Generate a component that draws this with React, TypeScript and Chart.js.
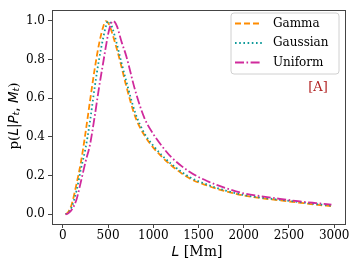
import React, { useEffect, useRef } from "react";
import { Chart, registerables } from "chart.js";

Chart.register(...registerables);

const L_VALUES = [30, 60, 100, 150, 200, 250, 300, 350, 400, 450, 475, 500, 525, 550, 575, 600, 650, 700, 800, 900, 1000, 1100, 1200, 1400, 1600, 1800, 2000, 2200, 2400, 2600, 2800, 2970];
const GAMMA = [0, 0.012, 0.055, 0.155, 0.27, 0.42, 0.585, 0.745, 0.88, 0.975, 0.998, 0.99, 0.965, 0.93, 0.89, 0.85, 0.76, 0.665, 0.505, 0.41, 0.345, 0.295, 0.252, 0.186, 0.148, 0.119, 0.097, 0.083, 0.072, 0.061, 0.05, 0.042];
const GAUSSIAN = [0, 0.008, 0.04, 0.12, 0.235, 0.34, 0.48, 0.65, 0.8, 0.92, 0.97, 0.998, 0.99, 0.96, 0.92, 0.875, 0.78, 0.69, 0.525, 0.42, 0.355, 0.303, 0.26, 0.193, 0.153, 0.123, 0.1, 0.086, 0.075, 0.064, 0.053, 0.045];
const UNIFORM = [0, 0.005, 0.025, 0.075, 0.17, 0.27, 0.36, 0.5, 0.655, 0.795, 0.865, 0.93, 0.975, 0.998, 0.993, 0.97, 0.89, 0.82, 0.64, 0.5, 0.415, 0.35, 0.295, 0.22, 0.171, 0.136, 0.108, 0.093, 0.08, 0.068, 0.058, 0.05];
const X_TICKS = [0, 500, 1000, 1500, 2000, 2500, 3000];
const Y_TICKS = [0, 0.2, 0.4, 0.6, 0.8, 1.0];
const SERIES_NAMES = ["Gamma", "Gaussian", "Uniform"];
const PANEL_TAG = "[A]";

const COLORS = ["#ff8c00", "#0f9a9a", "#d02a9c"];
const DASHES = [[6, 3], [1.6, 2.6], [9, 2.5, 1.6, 2.5]];

const SERIF = "'DejaVu Serif', serif";
const SANS = "'DejaVu Sans', sans-serif";

type Seg = { text: string; font: string; dy?: number };

function drawRich(ctx: CanvasRenderingContext2D, segs: Seg[], cx: number, cy: number) {
  let total = 0;
  const widths = segs.map((s) => {
    ctx.font = s.font;
    const w = ctx.measureText(s.text).width;
    total += w;
    return w;
  });
  let x = cx - total / 2;
  ctx.textBaseline = "middle";
  ctx.textAlign = "left";
  segs.forEach((s, i) => {
    ctx.font = s.font;
    ctx.fillText(s.text, x, cy + (s.dy || 0));
    x += widths[i];
  });
}

const overlay = {
  id: "overlay",
  afterDraw(chart: any) {
    const ctx: CanvasRenderingContext2D = chart.ctx;
    const a = chart.chartArea;
    ctx.save();
    // frame
    ctx.strokeStyle = "#444";
    ctx.lineWidth = 1;
    ctx.setLineDash([]);
    ctx.strokeRect(Math.round(a.left) + 0.5, Math.round(a.top) + 0.5, Math.round(a.right - a.left), Math.round(a.bottom - a.top));

    // legend
    const lx = 231, ly = 13, lw = 108, lh = 61;
    ctx.beginPath();
    const r = 3;
    ctx.moveTo(lx + r, ly);
    ctx.lineTo(lx + lw - r, ly);
    ctx.quadraticCurveTo(lx + lw, ly, lx + lw, ly + r);
    ctx.lineTo(lx + lw, ly + lh - r);
    ctx.quadraticCurveTo(lx + lw, ly + lh, lx + lw - r, ly + lh);
    ctx.lineTo(lx + r, ly + lh);
    ctx.quadraticCurveTo(lx, ly + lh, lx, ly + lh - r);
    ctx.lineTo(lx, ly + r);
    ctx.quadraticCurveTo(lx, ly, lx + r, ly);
    ctx.closePath();
    ctx.fillStyle = "rgba(255,255,255,0.85)";
    ctx.fill();
    ctx.strokeStyle = "#d0d0d0";
    ctx.stroke();
    const rows = [23.5, 43, 62.5];
    SERIES_NAMES.forEach((name, i) => {
      ctx.strokeStyle = COLORS[i];
      ctx.lineWidth = 1.8;
      ctx.setLineDash(DASHES[i]);
      ctx.beginPath();
      ctx.moveTo(235, rows[i]);
      ctx.lineTo(262, rows[i]);
      ctx.stroke();
      ctx.setLineDash([]);
      ctx.fillStyle = "#000";
      ctx.font = `12px ${SERIF}`;
      ctx.textAlign = "left";
      ctx.textBaseline = "middle";
      ctx.fillText(name, 273, rows[i]);
    });

    // panel tag
    ctx.fillStyle = "#b22222";
    ctx.font = `13px ${SERIF}`;
    ctx.textAlign = "center";
    ctx.textBaseline = "middle";
    ctx.fillText(PANEL_TAG, 318, 88);

    // x title
    ctx.fillStyle = "#000";
    drawRich(ctx, [
      { text: "L", font: `italic 14px ${SANS}` },
      { text: " [Mm]", font: `14px ${SERIF}` },
    ], 197, 252);

    // y title
    ctx.translate(14, 116);
    ctx.rotate(-Math.PI / 2);
    drawRich(ctx, [
      { text: "p(", font: `13.5px ${SERIF}` },
      { text: "L", font: `italic 13.5px ${SANS}` },
      { text: "|", font: `13.5px ${SANS}` },
      { text: "P", font: `italic 13.5px ${SANS}` },
      { text: "t", font: `italic 9.5px ${SANS}`, dy: 3 },
      { text: ", ", font: `13.5px ${SANS}` },
      { text: "M", font: `italic 13.5px ${SANS}` },
      { text: "t", font: `italic 9.5px ${SANS}`, dy: 3 },
      { text: ")", font: `13.5px ${SERIF}` },
    ], 0, 0);
    ctx.restore();
  },
};

export default function App() {
  const ref = useRef<HTMLCanvasElement>(null);
  useEffect(() => {
    document.body.style.margin = "0";
    const series = [GAMMA, GAUSSIAN, UNIFORM];
    const chart = new Chart(ref.current!, {
      type: "line",
      data: {
        datasets: series.map((vals, i) => ({
          label: SERIES_NAMES[i],
          data: L_VALUES.map((x, j) => ({ x, y: vals[j] })),
          borderColor: COLORS[i],
          borderWidth: 1.8,
          borderDash: DASHES[i],
          pointRadius: 0,
          fill: false,
          cubicInterpolationMode: "monotone" as const,
          order: 2 - i,
        })),
      },
      options: {
        responsive: false,
        animation: false,
        layout: { padding: { top: 5, right: 12, left: 0, bottom: 0 } },
        plugins: { legend: { display: false }, tooltip: { enabled: false } },
        scales: {
          x: {
            type: "linear",
            min: -120,
            max: 3120,
            afterBuildTicks: (s: any) => { s.ticks = X_TICKS.map((v) => ({ value: v })); },
            afterFit: (s: any) => { s.height = 43; },
            grid: { display: true, drawOnChartArea: false, drawTicks: true, tickLength: 4, color: "#444" },
            border: { display: false },
            ticks: { color: "#000", font: { family: SERIF, size: 12 }, padding: 1, maxRotation: 0, callback: (v: any) => String(v) },
          },
          y: {
            type: "linear",
            min: -0.05,
            max: 1.055,
            afterBuildTicks: (s: any) => { s.ticks = Y_TICKS.map((v) => ({ value: v })); },
            afterFit: (s: any) => { s.width = 52; },
            grid: { display: true, drawOnChartArea: false, drawTicks: true, tickLength: 4, color: "#444" },
            border: { display: false },
            ticks: { color: "#000", font: { family: SERIF, size: 12 }, padding: 3, callback: (v: any) => Number(v).toFixed(1) },
          },
        },
      },
      plugins: [overlay],
    });
    return () => chart.destroy();
  }, []);
  return (
    <div style={{ position: "fixed", left: 0, top: 0, width: 357, height: 267, background: "#fff" }}>
      <canvas ref={ref} width={357} height={267} />
    </div>
  );
}
